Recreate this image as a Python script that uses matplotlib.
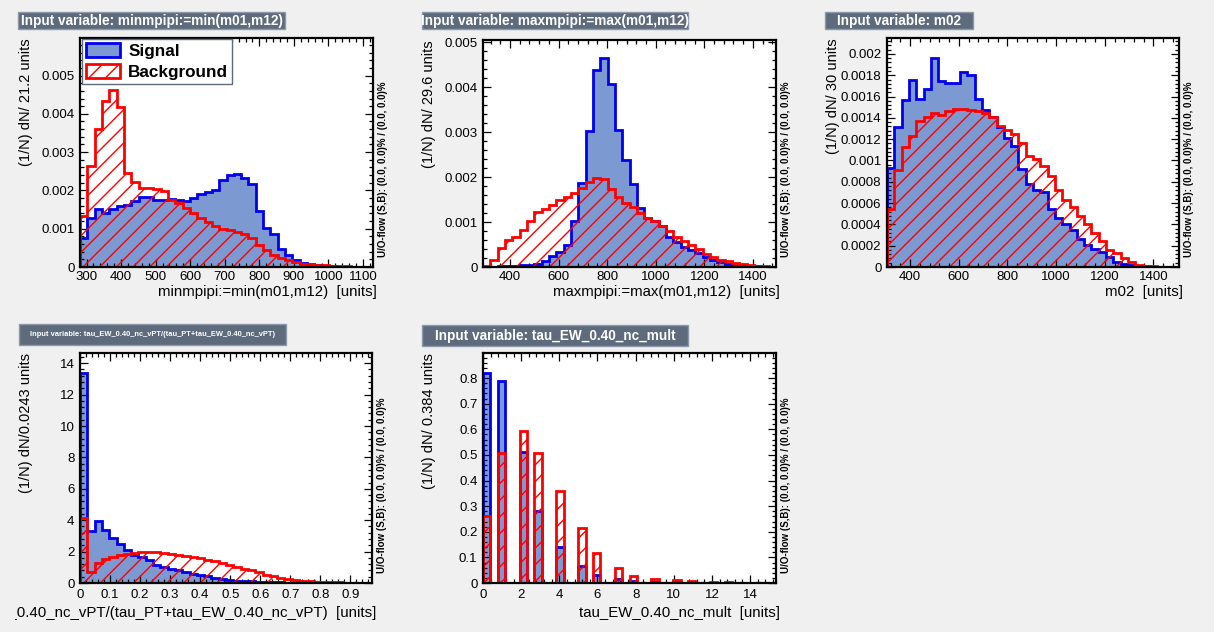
import matplotlib
matplotlib.use("Agg")
import matplotlib.pyplot as plt
import numpy as np
from matplotlib.patches import Rectangle, Patch
from matplotlib.ticker import MultipleLocator, AutoMinorLocator, FuncFormatter
from matplotlib.transforms import Bbox

plt.rcParams['font.family'] = ['Liberation Sans', 'DejaVu Sans']
plt.rcParams['hatch.linewidth'] = 1.0

W, H = 1214, 632
BG = '#f0f0f0'
SIG_FILL = '#7d99d1'
SIG_LINE = '#0000ee'
BKG = '#ff0000'
TITLE_FILL = '#5d6b7d'
TITLE_EDGE = '#8e9aab'

# ---- minmpipi:=min(m01,m12), 40 bins of 21.2
min_range = (281.0, 1129.0)
min_sig = [0.00076, 0.00128, 0.00152, 0.00141, 0.00152, 0.00159, 0.00163, 0.00172,
           0.00182, 0.00182, 0.00176, 0.00176, 0.00178, 0.00176, 0.00172, 0.00180,
           0.00191, 0.00195, 0.00200, 0.00226, 0.00239, 0.00244, 0.00233, 0.00217,
           0.00147, 0.00102, 0.00085, 0.00047, 0.00032, 0.00017, 0.00010, 0.00007,
           0.00004, 0.00003, 0.00002, 0.00001, 0.00001, 0.00001, 0.0, 0.0]
min_bkg = [0.00132, 0.00265, 0.00360, 0.00433, 0.00462, 0.00417, 0.00246, 0.00221,
           0.00206, 0.00206, 0.00204, 0.00198, 0.00176, 0.00166, 0.00154, 0.00141,
           0.00128, 0.00117, 0.00106, 0.00099, 0.00096, 0.00091, 0.00086, 0.00076,
           0.00058, 0.00044, 0.00032, 0.00024, 0.00017, 0.00012, 0.00009, 0.00007,
           0.00005, 0.00004, 0.00003, 0.00002, 0.00002, 0.00001, 0.00001, 0.00001]

# ---- maxmpipi:=max(m01,m12), 40 bins of 29.6
max_range = (289.0, 1495.0)
max_sig = [0.00001, 0.00001, 0.00002, 0.00002, 0.00003, 0.00004, 0.00005, 0.00007,
           0.00013, 0.00024, 0.00033, 0.00050, 0.00102, 0.00187, 0.00303, 0.00438,
           0.00464, 0.00408, 0.00305, 0.00237, 0.00184, 0.00132, 0.00109, 0.00102,
           0.00091, 0.00067, 0.00055, 0.00045, 0.00037, 0.00031, 0.00022, 0.00016,
           0.00011, 0.00007, 0.00005, 0.00004, 0.00003, 0.00002, 0.00001, 0.00001]
max_bkg = [0.00002, 0.00016, 0.00042, 0.00060, 0.00067, 0.00083, 0.00102, 0.00122,
           0.00129, 0.00138, 0.00149, 0.00156, 0.00164, 0.00176, 0.00189, 0.00199,
           0.00195, 0.00174, 0.00156, 0.00143, 0.00134, 0.00120, 0.00109, 0.00102,
           0.00092, 0.00080, 0.00067, 0.00057, 0.00048, 0.00039, 0.00030, 0.00022,
           0.00016, 0.00013, 0.00009, 0.00007, 0.00004, 0.00003, 0.00002, 0.00001]

# ---- m02, 40 bins of 30
m02_range = (305.0, 1505.0)
m02_sig = [0.00093, 0.00131, 0.00157, 0.00176, 0.00158, 0.00167, 0.00196, 0.00175,
           0.00173, 0.00173, 0.00183, 0.00180, 0.00158, 0.00147, 0.00141, 0.00131,
           0.00121, 0.00114, 0.00092, 0.00078, 0.00072, 0.00070, 0.00054, 0.00046,
           0.00040, 0.00035, 0.00026, 0.00021, 0.00017, 0.00014, 0.00009, 0.00005,
           0.00003, 0.00002, 0.00001, 0.00001, 0.0, 0.0, 0.0, 0.0]
m02_bkg = [0.00054, 0.00091, 0.00113, 0.00123, 0.00137, 0.00141, 0.00145, 0.00143,
           0.00146, 0.00148, 0.00148, 0.00147, 0.00146, 0.00145, 0.00141, 0.00132,
           0.00129, 0.00125, 0.00116, 0.00104, 0.00101, 0.00095, 0.00085, 0.00072,
           0.00063, 0.00056, 0.00048, 0.00040, 0.00032, 0.00024, 0.00016, 0.00013,
           0.00008, 0.00005, 0.00002, 0.00001, 0.000005, 0.0, 0.0, 0.0]

# ---- tau_EW_0.40_nc_vPT/(tau_PT+tau_EW_0.40_nc_vPT), 40 bins of 0.0243
vpt_range = (0.0, 0.972)
vpt_sig = [13.37, 3.33, 3.93, 3.40, 2.87, 2.50, 2.08, 1.80, 1.65, 1.44,
           1.17, 1.02, 0.89, 0.81, 0.70, 0.59, 0.49, 0.42, 0.32, 0.25,
           0.19, 0.15, 0.13, 0.11, 0.08, 0.06, 0.05, 0.04, 0.03, 0.03,
           0.02, 0.02, 0.01, 0.01, 0.01, 0.01, 0.0, 0.0, 0.0, 0.0]
vpt_bkg = [4.14, 0.70, 1.27, 1.53, 1.65, 1.76, 1.87, 1.91, 1.95, 1.95,
           1.95, 1.91, 1.87, 1.80, 1.74, 1.65, 1.59, 1.49, 1.38, 1.27,
           1.17, 1.02, 0.89, 0.81, 0.68, 0.53, 0.42, 0.32, 0.25, 0.17,
           0.13, 0.11, 0.08, 0.06, 0.05, 0.04, 0.03, 0.02, 0.02, 0.01]

# ---- tau_EW_0.40_nc_mult, 40 bins of 0.384, integer multiplicities 0..15
mult_range = (0.0, 15.36)
mult_n = np.arange(16)
mult_sig = [0.820, 0.787, 0.511, 0.280, 0.139, 0.065, 0.030, 0.015,
            0.008, 0.004, 0.002, 0.001, 0.0, 0.0, 0.0, 0.0]
mult_bkg = [0.263, 0.506, 0.592, 0.507, 0.360, 0.215, 0.117, 0.058,
            0.029, 0.016, 0.010, 0.006, 0.004, 0.002, 0.001, 0.001]


def binned(n_values, values, lo, hi, nbins=40):
    # put each integer multiplicity into its 0.384-wide bin
    out = np.zeros(nbins)
    width = (hi - lo) / nbins
    for n, v in zip(n_values, values):
        out[int((n - lo) / width)] += v
    return out


def px_box(x0, y0, x1, y1):
    return [x0 / W, 1 - y1 / H, (x1 - x0) / W, (y1 - y0) / H]


fmt = FuncFormatter(lambda v, p: '%g' % round(v, 10))

fig = plt.figure(figsize=(W / 100, H / 100), dpi=100, facecolor=BG)


def panel(frame, rng, sig, bkg, ymax, xstep, ystep, title, tbox, tsize,
          xlabel, ylabel, legend=False, row=0):
    x0, y0, x1, y1 = frame
    ax = fig.add_axes(px_box(*frame))
    edges = np.linspace(rng[0], rng[1], len(sig) + 1)

    # signal: filled, then background hatched on top
    ax.stairs(sig, edges, fill=True, facecolor=SIG_FILL, zorder=1)
    ax.stairs(sig, edges, color=SIG_LINE, lw=2.0, zorder=2)
    ax.stairs(bkg, edges, fill=True, facecolor='none', edgecolor=BKG,
              hatch='//', lw=0, zorder=3)
    ax.stairs(bkg, edges, color=BKG, lw=2.0, zorder=4)

    ax.set_xlim(rng)
    ax.set_ylim(0, ymax)
    ax.xaxis.set_major_locator(MultipleLocator(xstep))
    ax.yaxis.set_major_locator(MultipleLocator(ystep))
    ax.xaxis.set_minor_locator(AutoMinorLocator(5))
    ax.yaxis.set_minor_locator(AutoMinorLocator(5))
    ax.xaxis.set_major_formatter(fmt)
    ax.yaxis.set_major_formatter(fmt)
    ax.tick_params(which='both', direction='in', top=True, right=True,
                   width=0.9, labelsize=9.5, colors='black')
    ax.tick_params(which='major', length=5.5)
    ax.tick_params(which='minor', length=3)
    ax.tick_params(axis='x', pad=3 + 1.5 * row)
    ax.tick_params(axis='y', pad=4)
    for s in ax.spines.values():
        s.set_linewidth(1.6)
        s.set_zorder(6)

    # title pave
    bx0, by0, bx1, by1 = tbox
    fig.add_artist(Rectangle((bx0 / W, 1 - by1 / H), (bx1 - bx0) / W, (by1 - by0) / H,
                             transform=fig.transFigure, facecolor=TITLE_FILL,
                             edgecolor=TITLE_EDGE, lw=1.0))
    fig.text((bx0 + bx1) / 2 / W, 1 - (by0 + by1) / 2 / H, title, color='white',
             fontsize=tsize, fontweight='bold', ha='center', va='center')

    # axis titles; the long one runs off the pad's left edge
    xl = fig.text((x1 + 4) / W, 1 - (y1 + 25 + 5 * row) / H, xlabel, fontsize=10.8,
                  ha='right', va='center')
    xl.set_clip_box(Bbox([[15, 0], [W, H]]))
    xl.set_clip_on(True)
    fig.text((x0 - 54) / W, 1 - y0 / H, ylabel, fontsize=10.5, rotation=90,
             ha='center', va='top')

    # under/overflow note
    fig.text((x1 + 10) / W, 1 - (y1 - 10) / H,
             'U/O-flow (S,B): (0.0, 0.0)% / (0.0, 0.0)%', fontsize=7,
             fontweight='bold', rotation=90, ha='center', va='bottom')

    if legend:
        handles = [Patch(facecolor=SIG_FILL, edgecolor=SIG_LINE, lw=2.0, label='Signal'),
                   Patch(facecolor='white', edgecolor=BKG, hatch='//', lw=2.0,
                         label='Background')]
        leg = ax.legend(handles=handles, loc='upper left', bbox_to_anchor=(0.007, 0.997),
                        borderaxespad=0, fancybox=False, framealpha=1,
                        edgecolor=TITLE_FILL, prop={'weight': 'bold', 'size': 12.3},
                        handlelength=2.0, handleheight=0.9, handletextpad=0.45,
                        labelspacing=0.3, borderpad=0.25)
        leg.get_frame().set_linewidth(1.0)
        leg.set_zorder(10)
    return ax


panel((80, 38, 373, 267), min_range, min_sig, min_bkg, 0.00598, 100, 0.001,
      'Input variable: minmpipi:=min(m01,m12)', (18, 12, 285, 29), 9.8,
      'minmpipi:=min(m01,m12)  [units]', '(1/N) dN/ 21.2 units', legend=True)

panel((483, 40, 776, 267), max_range, max_sig, max_bkg, 0.00505, 200, 0.001,
      'Input variable: maxmpipi:=max(m01,m12)', (422, 12, 688, 29), 9.8,
      'maxmpipi:=max(m01,m12)  [units]', '(1/N) dN/ 29.6 units')

panel((887, 38, 1179, 267), m02_range, m02_sig, m02_bkg, 0.00215, 200, 0.0002,
      'Input variable: m02', (825, 12, 973, 29), 9.8,
      'm02  [units]', '(1/N) dN/ 30 units')

panel((80, 353, 372, 583), vpt_range, vpt_sig, vpt_bkg, 14.65, 0.1, 2,
      'Input variable: tau_EW_0.40_nc_vPT/(tau_PT+tau_EW_0.40_nc_vPT)',
      (19, 324, 286, 345), 5.4,
      'tau_EW_0.40_nc_vPT/(tau_PT+tau_EW_0.40_nc_vPT)  [units]',
      '(1/N) dN/0.0243 units', row=1)

panel((483, 353, 776, 583), mult_range,
      binned(mult_n, mult_sig, *mult_range), binned(mult_n, mult_bkg, *mult_range),
      0.8976, 2, 0.1,
      'Input variable: tau_EW_0.40_nc_mult', (422, 325, 688, 346), 9.8,
      'tau_EW_0.40_nc_mult  [units]', '(1/N) dN/ 0.384 units', row=1)

fig.savefig('out.png', dpi=100, facecolor=BG)
